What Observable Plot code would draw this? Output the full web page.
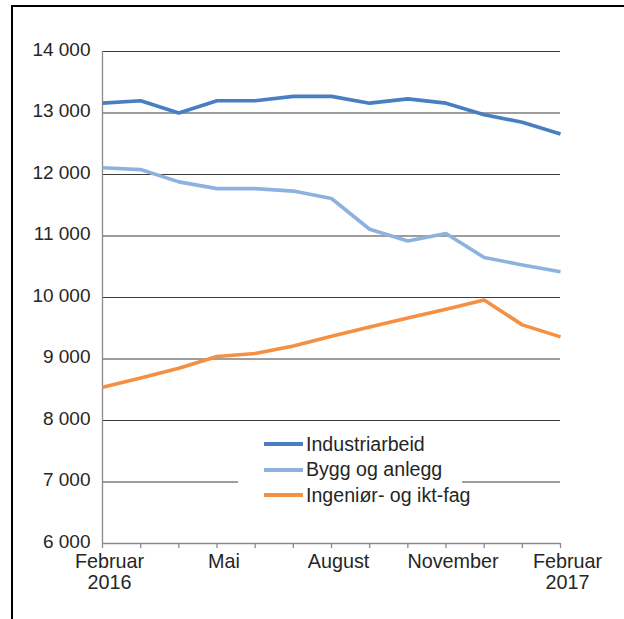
<!DOCTYPE html>
<html>
<head>
<meta charset="utf-8">
<script src="https://cdn.jsdelivr.net/npm/d3@7"></script>
<script src="https://cdn.jsdelivr.net/npm/@observablehq/plot@0.6"></script>
<style>
  body { margin: 0; background: #fff; }
  #wrap { position: relative; width: 624px; height: 619px; overflow: hidden; font-family: "Liberation Sans", Arial, sans-serif; }
  #frame { position: absolute; left: 11px; top: 5px; right: -5px; bottom: -5px; border-top: 2px solid #000; border-left: 2px solid #000; pointer-events: none; }
  #legend { position: absolute; left: 238px; top: 430px; width: 224px; height: 76px; background: #fff; color: #262626; font-size: 19.6px; }
  .item { position: absolute; left: 26px; height: 24px; display: flex; align-items: center; white-space: nowrap; }
  .sw { width: 39px; height: 4px; margin-right: 3px; }
</style>
</head>
<body>
<div id="wrap">
  <div id="chart"></div>
  <div id="frame"></div>
  <div id="legend"></div>
</div>
<script>
// Months (Feb 2016 .. Feb 2017)
const months = ["Feb 2016","Mar 2016","Apr 2016","Mai 2016","Jun 2016","Jul 2016","Aug 2016","Sep 2016","Okt 2016","Nov 2016","Des 2016","Jan 2017","Feb 2017"];
const seriesNames = ["Industriarbeid", "Bygg og anlegg", "Ingeniør- og ikt-fag"];
const seriesColors = ["#4a7ec2", "#8eb2e0", "#f58f41"];
const industri = [13160, 13200, 13000, 13200, 13200, 13270, 13270, 13160, 13230, 13160, 12970, 12850, 12660];
const bygg     = [12110, 12080, 11880, 11770, 11770, 11730, 11610, 11110, 10920, 11040, 10650, 10530, 10420];
const ingenior = [8540, 8690, 8850, 9040, 9090, 9210, 9370, 9520, 9665, 9810, 9960, 9555, 9360];
const yTicks = [6000, 7000, 8000, 9000, 10000, 11000, 12000, 13000, 14000];
const xLabelIdx = [0, 3, 6, 9, 12];
const xLabels = ["Februar\n2016", "Mai", "August", "November", "Februar\n2017"];

const seriesValues = [industri, bygg, ingenior];
const data = [];
seriesNames.forEach((name, s) => {
  seriesValues[s].forEach((v, i) => data.push({series: name, i, month: months[i], value: v}));
});

const fmt = v => d3.format(",")(v).replace(/,/g, " ");

const chart = Plot.plot({
  width: 624,
  height: 619,
  marginTop: 51,
  marginBottom: 76,
  marginLeft: 102,
  marginRight: 64,
  style: { fontFamily: "'Liberation Sans', Arial, sans-serif", fontSize: "19px", color: "#262626", background: "transparent" },
  x: { domain: [0, months.length - 1], label: null },
  y: { domain: [6000, 14000], label: null },
  color: { domain: seriesNames, range: seriesColors },
  marks: [
    Plot.ruleY(yTicks.filter(t => t > 6000), { stroke: "#3c3c3c", strokeWidth: 1, strokeOpacity: 1 }),
    Plot.ruleX([0], { stroke: "#8a8a8a", strokeWidth: 1.3 }),
    Plot.ruleY([6000], { stroke: "#8a8a8a", strokeWidth: 1.3 }),
    Plot.axisX({ ticks: d3.range(months.length), tickSize: 5, stroke: "#8a8a8a", strokeWidth: 1.3, strokeOpacity: 1, text: null, label: null }),
    Plot.axisX({ ticks: xLabelIdx, tickSize: 0, tickPadding: 10, tickFormat: i => xLabels[xLabelIdx.indexOf(i)], dx: 7, lineHeight: 1.04, fill: "#262626", fontSize: 19.8, label: null }),
    Plot.axisY({ ticks: yTicks, tickSize: 0, tickPadding: 12, tickFormat: fmt, dy: -2, fill: "#262626", fontSize: 19, label: null }),
    Plot.line(data, { x: "i", y: "value", z: "series", stroke: "series", strokeWidth: 3.6, strokeLinejoin: "round", strokeLinecap: "butt" })
  ]
});
document.getElementById("chart").append(chart);

const legend = document.getElementById("legend");
seriesNames.forEach((name, s) => {
  const it = document.createElement("div");
  it.className = "item";
  it.style.top = (2 + s * 25.5) + "px";
  it.innerHTML = `<span class="sw" style="background:${seriesColors[s]}"></span><span>${name}</span>`;
  legend.append(it);
});
</script>
</body>
</html>
